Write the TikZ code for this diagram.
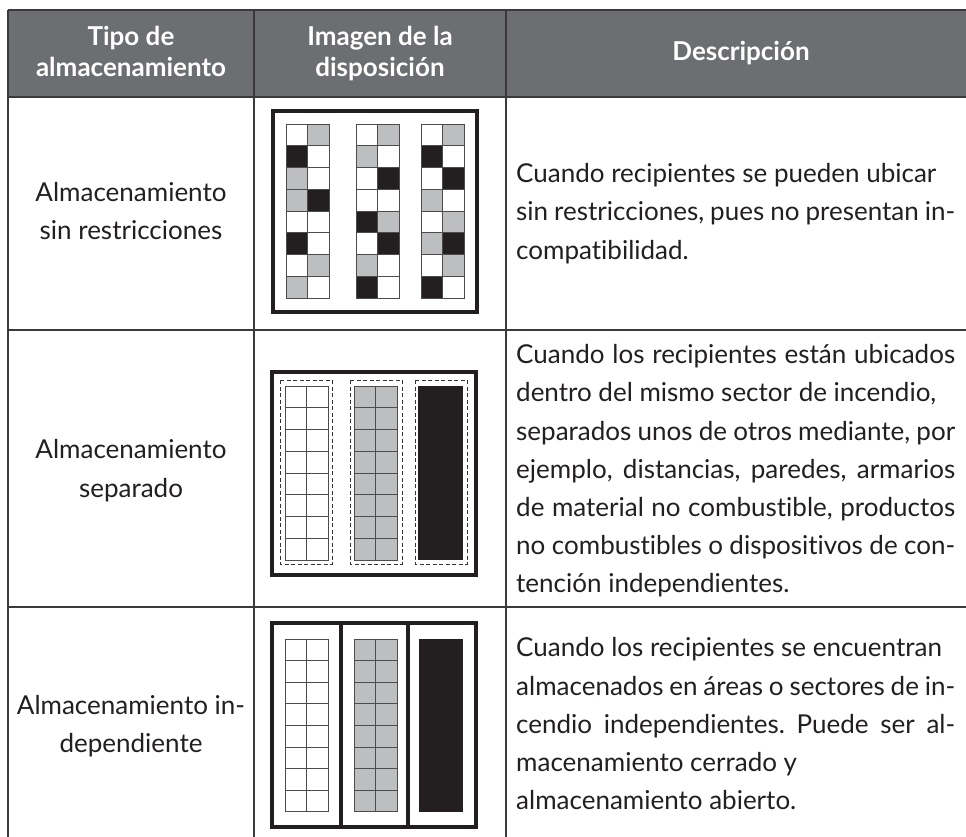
\documentclass[tikz,border=0pt]{standalone}
\usepackage{fontspec}
\setmainfont{Lato}[Ligatures={NoCommon}]
\definecolor{hdr}{HTML}{6D6E71}
\definecolor{cG}{HTML}{BCBEC0}
\definecolor{cB}{HTML}{231F20}
\definecolor{cW}{HTML}{FFFFFF}
\definecolor{txt}{HTML}{231F20}
\definecolor{rulec}{HTML}{3A3A3A}
\newcommand{\jline}[1]{\makebox[439pt][s]{#1}}
\frenchspacing
\begin{document}
\begin{tikzpicture}[x=1pt,y=-1pt,
  tablerule/.style={draw=rulec,line width=1.6pt},
  frame/.style={draw=cB,line width=3.2pt},
  cellbox/.style={draw=black!70,line width=0.9pt},
  dashbox/.style={draw=black!80,line width=0.8pt,dash pattern=on 4pt off 2.5pt},
  hdrtext/.style={text=white,font=\fontsize{26}{30}\selectfont\bfseries,anchor=base,inner sep=0pt},
  lefttext/.style={text=txt,font=\fontsize{26}{38}\selectfont,anchor=base,inner sep=0pt},
  desc/.style={text=txt,font=\fontsize{26}{38}\selectfont,anchor=base west,inner sep=0pt}]
\useasboundingbox (0,0) rectangle (966,837);
\fill[white] (0,0) rectangle (966,837);
% header
\fill[hdr] (8,10) rectangle (966,97);
\foreach \yy in {10,97,330,607} \draw[tablerule] (8,\yy) -- (966,\yy);
\foreach \xx in {8,254,506} \draw[tablerule] (\xx,10) -- (\xx,837);
\node[hdrtext] (h1a) at (131,46) {Tipo de};
\node[hdrtext] (h1b) at (131,77) {almacenamiento};
\node[hdrtext] (h2a) at (380,46) {Imagen de la};
\node[hdrtext] (h2b) at (380,77) {disposición};
\node[hdrtext] (h3) at (741,61) {Descripción};
% left column
\node[lefttext] (l1a) at (131,202) {Almacenamiento};
\node[lefttext] (l1b) at (131,240) {sin restricciones};
\node[lefttext] (l2a) at (131,458) {Almacenamiento};
\node[lefttext] (l2b) at (131,497) {separado};
\node[lefttext] (l3a) at (131,714) {Almacenamiento in-};
\node[lefttext] (l3b) at (131,752) {dependiente};
% descriptions
\node[desc] (d1a) at (516,183) {Cuando recipientes se pueden ubicar};
\node[desc] (d1b) at (516,221) {\jline{sin restricciones, pues no presentan in-}};
\node[desc] (d1c) at (516,259) {compatibilidad.};
\node[desc] (d2a) at (516,363) {\jline{Cuando los recipientes están ubicados}};
\node[desc] (d2b) at (516,401) {dentro del mismo sector de incendio,};
\node[desc] (d2c) at (516,440) {\jline{separados unos de otros mediante, por}};
\node[desc] (d2d) at (516,478) {\jline{ejemplo, distancias, paredes, armarios}};
\node[desc] (d2e) at (516,516) {\jline{de material no combustible, productos}};
\node[desc] (d2f) at (516,554) {\jline{no combustibles o dispositivos de con-}};
\node[desc] (d2g) at (516,592) {tención independientes.};
\node[desc] (d3a) at (516,656) {Cuando los recipientes se encuentran};
\node[desc] (d3b) at (516,695) {\jline{almacenados en áreas o sectores de in-}};
\node[desc] (d3c) at (516,733) {\jline{cendio independientes. Puede ser al-}};
\node[desc] (d3d) at (516,771) {macenamiento cerrado y};
\node[desc] (d3e) at (516,809) {almacenamiento abierto.};
% ---- row 1 diagram: checkerboard
\def\ch{21.75}
\foreach \cx/\pat in {286/{cW/cG,cB/cW,cG/cW,cG/cB,cW/cW,cB/cW,cW/cG,cG/cW},
                      356/{cW/cG,cG/cW,cW/cB,cW/cW,cB/cG,cW/cB,cG/cW,cB/cW},
                      421/{cW/cG,cB/cW,cW/cB,cG/cW,cW/cG,cG/cB,cW/cG,cB/cW}}{
  \foreach \lc/\rc [count=\i from 0] in \pat {
    \filldraw[cellbox,fill=\lc] (\cx,124+\i*\ch) rectangle ++(21.7,\ch);
    \filldraw[cellbox,fill=\rc] (\cx+21.7,124+\i*\ch) rectangle ++(21.7,\ch);
  }
}
\draw[frame] (273,111) rectangle (477,312);
% ---- row 2 diagram
\draw[frame] (272,372) rectangle (476,575);
\foreach \dx in {280,350,415} \draw[dashbox] (\dx,380) rectangle ++(52,184);
\foreach \gx/\gc in {285/cW,354/cG} {
  \foreach \i in {0,...,7} {
    \filldraw[cellbox,fill=\gc] (\gx,386+\i*\ch) rectangle ++(21.7,\ch);
    \filldraw[cellbox,fill=\gc] (\gx+21.7,386+\i*\ch) rectangle ++(21.7,\ch);
  }
}
\fill[cB] (418,386) rectangle (463,560);
% ---- row 3 diagram
\foreach \gx/\gc in {285/cW,354/cG} {
  \foreach \i in {0,...,7} {
    \filldraw[cellbox,fill=\gc] (\gx,639+\i*21.6) rectangle ++(21.7,21.6);
    \filldraw[cellbox,fill=\gc] (\gx+21.7,639+\i*21.6) rectangle ++(21.7,21.6);
  }
}
\fill[cB] (419,639) rectangle (463,812);
\draw[frame] (272,623) rectangle (476,827);
\draw[frame] (341,623) -- (341,827);
\draw[frame] (408,623) -- (408,827);
\end{tikzpicture}
\end{document}
